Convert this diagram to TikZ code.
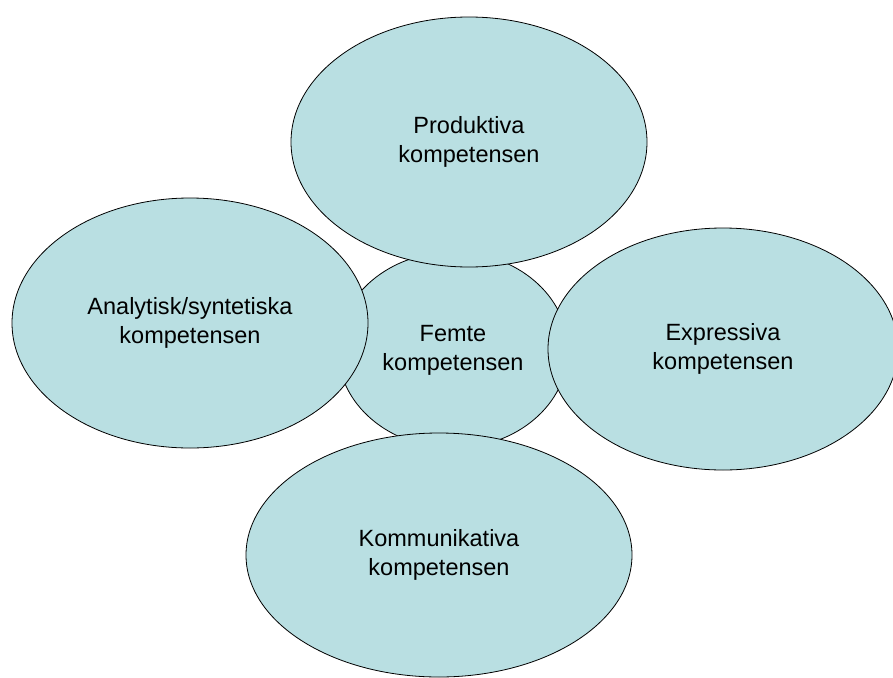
\documentclass[tikz,border=0pt]{standalone}
\usepackage{fontspec}
\setmainfont{Liberation Sans}
\usetikzlibrary{shapes.geometric}
\definecolor{bubble}{HTML}{B9DFE2}
\tikzset{
  comp/.style={ellipse, draw=black, line width=0.8pt, fill=bubble, inner sep=0pt,
    align=center, font=\fontsize{23.5}{29}\selectfont, text=black}
}
\begin{document}
\begin{tikzpicture}[x=1pt,y=-1pt]
\useasboundingbox (0,0) rectangle (893,677);
\begin{scope}
\clip (0,0) rectangle (893,677);
\node[comp, minimum width=230, minimum height=196] (femte) at (453,350) {Femte\\kompetensen};
\node[comp, minimum width=356, minimum height=250] (prod) at (469,142) {Produktiva\\kompetensen};
\node[comp, minimum width=356, minimum height=250] (anal) at (190,323) {Analytisk/syntetiska\\kompetensen};
\node[comp, minimum width=350, minimum height=242] (expr) at (723,349) {Expressiva\\kompetensen};
\node[comp, minimum width=386, minimum height=244] (komm) at (439,555) {Kommunikativa\\kompetensen};
\end{scope}
\end{tikzpicture}
\end{document}
